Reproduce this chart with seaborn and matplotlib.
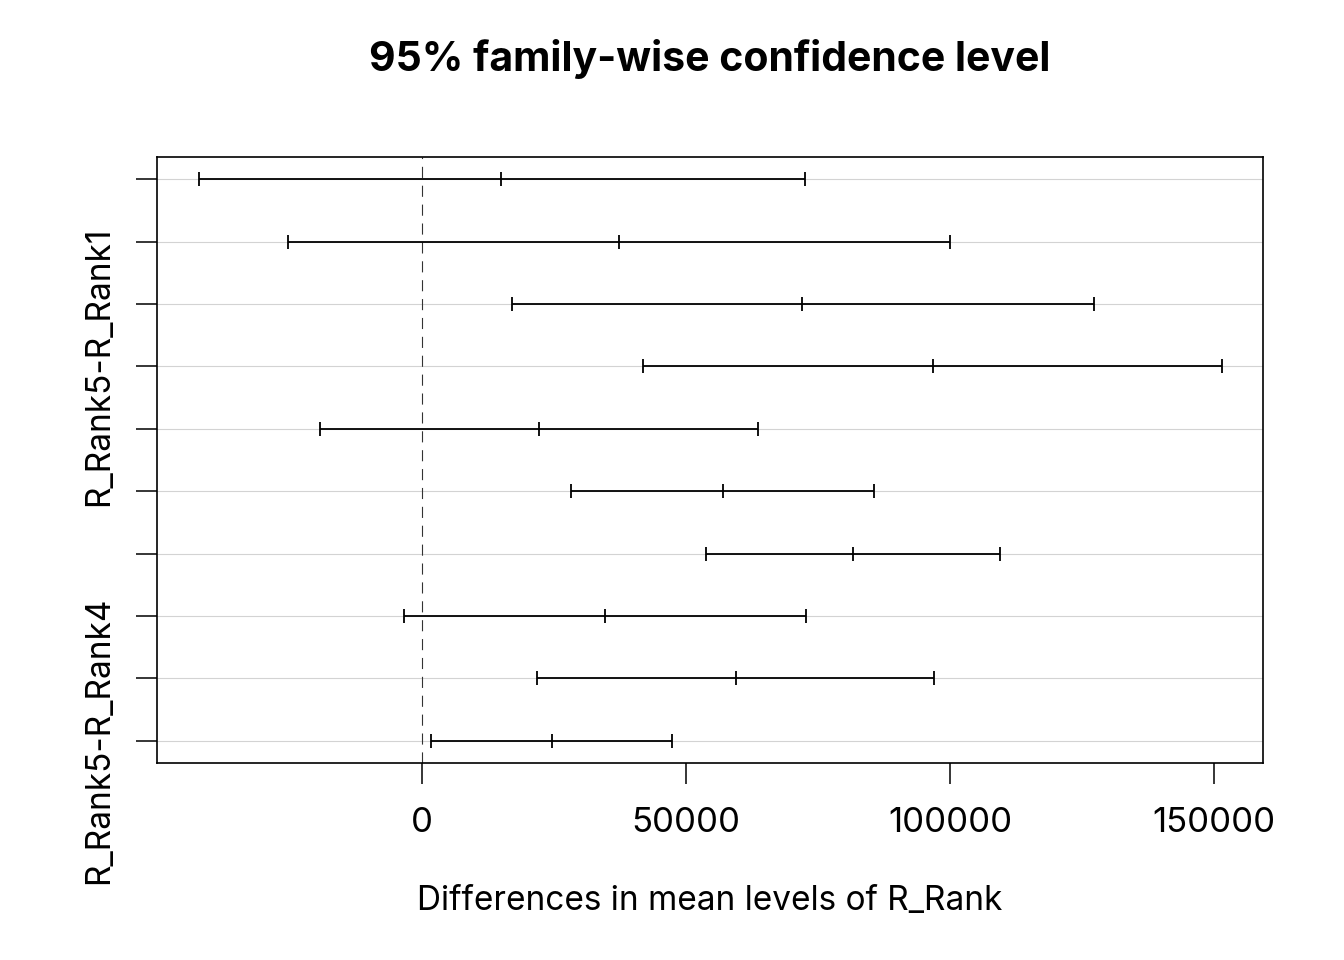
import numpy as np
import pandas as pd
import matplotlib
matplotlib.use("Agg")
import matplotlib.pyplot as plt
import seaborn as sns

# Tukey HSD comparisons, top to bottom
comparisons = ["R_Rank2-R_Rank1", "R_Rank3-R_Rank1", "R_Rank4-R_Rank1", "R_Rank5-R_Rank1",
               "R_Rank3-R_Rank2", "R_Rank4-R_Rank2", "R_Rank5-R_Rank2",
               "R_Rank4-R_Rank3", "R_Rank5-R_Rank3", "R_Rank5-R_Rank4"]
diff = [14960, 37310, 71970, 96780, 22160, 57010, 81630, 34660, 59470, 24620]
lwr = [-42240, -25380, 17050, 41860, -19320, 28220, 53790, -3410, 21780, 1700]
upr = [72540, 100000, 127270, 151520, 63640, 85610, 109470, 72730, 96970, 47350]
# only these labels fit on the axis in the original
shown_labels = ["R_Rank5-R_Rank1", "R_Rank5-R_Rank4"]
xticks = [0, 50000, 100000, 150000]

df = pd.DataFrame({"comp": comparisons, "diff": diff, "lwr": lwr, "upr": upr})
df["pos"] = np.arange(1, len(df) + 1)

sns.set_theme(style="white")
plt.rcParams["font.family"] = ["Inter", "DejaVu Sans"]
plt.rcParams["text.color"] = "black"
plt.rcParams["xtick.color"] = "black"
plt.rcParams["ytick.color"] = "black"
plt.rcParams["axes.labelcolor"] = "black"

fig, ax = plt.subplots(figsize=(13.44, 9.6), dpi=100)
fig.subplots_adjust(left=0.1168, right=0.9397, top=0.8365, bottom=0.2052)

for p in df["pos"]:
    ax.axhline(p, color="#d3d3d3", lw=0.8, zorder=0)
ax.axvline(0, color="#333333", lw=0.8, ls=(0, (10, 7)), zorder=1)

ax.errorbar(df["diff"], df["pos"],
            xerr=[df["diff"] - df["lwr"], df["upr"] - df["diff"]],
            fmt="none", ecolor="black", elinewidth=1.3, capsize=4.8, capthick=1.3, zorder=2)
sns.scatterplot(data=df, x="diff", y="pos", marker="|", s=95, color="black",
                linewidth=1.3, ax=ax, zorder=3, legend=False)

ax.set_xlim(-50190, 159280)
ax.set_ylim(10.36, 0.64)
ax.set_xticks(xticks)
ax.set_xticklabels([str(t) for t in xticks], fontsize=25)
ax.set_yticks(df["pos"])
ax.set_yticklabels([c if c in shown_labels else "" for c in df["comp"]],
                   fontsize=24, rotation=90, va="center")
ax.tick_params(axis="x", length=15, width=1.1, color="black", direction="out",
               bottom=True, pad=17)
ax.tick_params(axis="y", length=15, width=1.1, color="black", direction="out",
               left=True, pad=15)

for s in ax.spines.values():
    s.set_color("black")
    s.set_linewidth(1.2)

ax.set_xlabel("Differences in mean levels of R_Rank", fontsize=24, labelpad=33)
ax.set_ylabel("")
ax.set_title("95% family-wise confidence level", fontsize=29.5, fontweight="bold", pad=62)

fig.savefig("out.png", dpi=100)
